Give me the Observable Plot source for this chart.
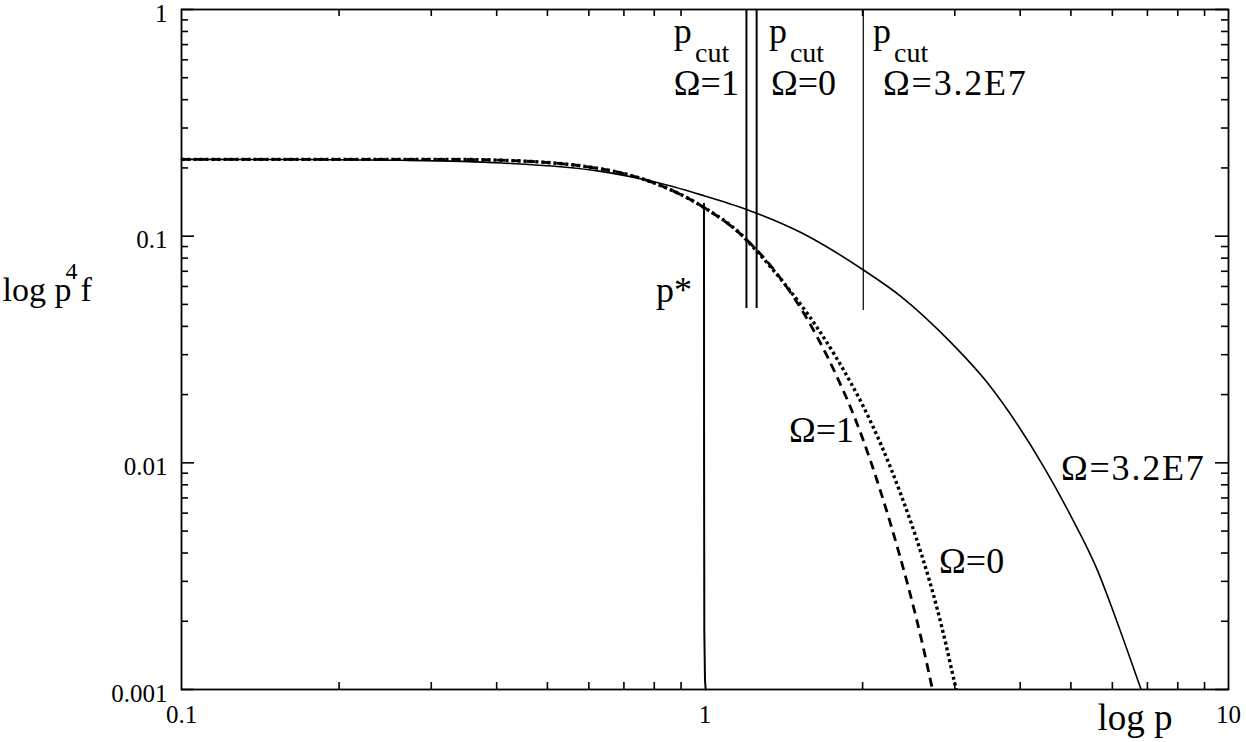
<!DOCTYPE html>
<html><head><meta charset="utf-8">
<script src="https://cdn.jsdelivr.net/npm/d3@7"></script>
<script src="https://cdn.jsdelivr.net/npm/@observablehq/plot@0.6"></script>
<style>
body{margin:0;background:#fff}
svg text, svg tspan { font-family: "Liberation Serif", "Times New Roman", serif !important; }
</style>
</head><body><div id="chart"></div>
<script>
// Omega = 3.2E7 (solid)
const pSolid = [0.1, 0.169, 0.263, 0.408, 0.632, 0.789, 0.983, 1.207, 1.525, 2.004, 2.366, 2.951, 3.472, 3.963, 4.443, 5.000, 5.633, 6.045, 6.808];
const vSolid = [0.2181, 0.2180, 0.2163, 0.2104, 0.1932, 0.1750, 0.1521, 0.1306, 0.1038, 0.0711, 0.0543, 0.0339, 0.02239, 0.01462, 0.00955, 0.00582, 0.00331, 0.00216, 0.001];
// Omega = 1 (dashed)
const pDash = [0.1, 0.2, 0.327, 0.408, 0.632, 0.789, 0.983, 1.187, 1.397, 1.594, 1.818, 1.926, 2.075, 2.265, 2.441, 2.531, 2.604, 2.719];
const vDash = [0.2181, 0.2181, 0.2181, 0.2163, 0.1982, 0.1736, 0.1362, 0.0989, 0.0647, 0.0403, 0.02198, 0.01611, 0.01007, 0.00532, 0.00288, 0.00208, 0.00158, 0.001];
// Omega = 0 (dotted)
const pDot = [0.1, 0.2, 0.327, 0.408, 0.632, 0.789, 0.983, 1.187, 1.240, 1.415, 1.644, 1.901, 2.013, 2.169, 2.368, 2.587, 2.781, 2.886, 2.991, 3.019];
const vDot = [0.2181, 0.2181, 0.2181, 0.2163, 0.1982, 0.1736, 0.1362, 0.0989, 0.0887, 0.0621, 0.0390, 0.02244, 0.01746, 0.01202, 0.00723, 0.00400, 0.00224, 0.00158, 0.001096, 0.001];
// p* line
const pStar = [0.9955, 0.996, 0.997, 1.0, 1.003];
const vStar = [0.139, 0.01, 0.0018, 0.0011, 0.001];
// p_cut lines (Omega=1, Omega=0, Omega=3.2E7)
const cutP = [1.2, 1.255, 2.006];
const cutLow = [0.048, 0.048, 0.047];

const xMajor = [0.1, 1, 10];
const xTickLabels = ["0.1", "1", "10"];
const xMinor = [0.2, 0.3, 0.4, 0.5, 0.6, 0.7, 0.8, 0.9, 2, 3, 4, 5, 6, 7, 8, 9];
const yMajor = [0.001, 0.01, 0.1, 1];
const yTickLabels = ["0.001", "0.01", "0.1", "1"];
const yMinor = [0.002, 0.003, 0.004, 0.005, 0.006, 0.007, 0.008, 0.009,
  0.02, 0.03, 0.04, 0.05, 0.06, 0.07, 0.08, 0.09,
  0.2, 0.3, 0.4, 0.5, 0.6, 0.7, 0.8, 0.9];

// annotations (data coordinates)
const annoText = ["p", "p", "p", "\u03A9=1", "\u03A9=0", "\u03A9=3.2E7", "p*", "\u03A9=1", "\u03A9=0", "\u03A9=3.2E7"];
const annoX = [0.872, 1.325, 2.094, 0.872, 1.337, 2.188, 0.806, 1.447, 2.80, 4.786];
const annoY = [0.715, 0.715, 0.715, 0.418, 0.418, 0.418, 0.051, 0.0123, 0.00325, 0.00836];
const subText = ["cut", "cut", "cut"];
const subX = [0.957, 1.453, 2.296];
const subY = [0.584, 0.584, 0.584];

const W = 1246, H = 742, ML = 181, MR = 18, MT = 9, MB = 53;
const IW = W - ML - MR, IH = H - MT - MB;
const FONT = "'Liberation Serif', 'Times New Roman', serif";

const toRows = (ps, vs) => ps.map((p, i) => ({p, v: vs[i]}));
const idx = a => a.map((_, i) => i);

const chart = Plot.plot({
  width: W, height: H,
  marginLeft: ML, marginRight: MR, marginTop: MT, marginBottom: MB,
  style: {fontFamily: FONT, background: "#fff", overflow: "visible"},
  x: {type: "log", domain: [0.1, 10], axis: null},
  y: {type: "log", domain: [0.001, 1], axis: null},
  marks: [
    // minor/major ticks (inward)
    Plot.ruleX(xMinor, {x: d => d, insetTop: IH - 7, stroke: "black", strokeWidth: 1.6}),
    Plot.ruleX(xMinor, {x: d => d, insetBottom: IH - 7, stroke: "black", strokeWidth: 1.6}),
    Plot.ruleY(yMinor, {y: d => d, insetRight: IW - 7, stroke: "black", strokeWidth: 1.6}),
    Plot.ruleY(yMinor, {y: d => d, insetLeft: IW - 7, stroke: "black", strokeWidth: 1.6}),
    Plot.ruleY(yMajor, {y: d => d, insetRight: IW - 13, stroke: "black", strokeWidth: 1.6}),
    Plot.ruleY(yMajor, {y: d => d, insetLeft: IW - 13, stroke: "black", strokeWidth: 1.6}),
    // cut lines
    Plot.ruleX([0, 1], {x: i => cutP[i], y1: i => cutLow[i], y2: 1, stroke: "black", strokeWidth: 2}),
    Plot.ruleX([2], {x: i => cutP[i], y1: i => cutLow[i], y2: 1, stroke: "black", strokeWidth: 1.2}),
    // curves
    Plot.line(toRows(pSolid, vSolid), {x: "p", y: "v", curve: "monotone-x", stroke: "black", strokeWidth: 1.6}),
    Plot.line(toRows(pDash, vDash), {x: "p", y: "v", curve: "monotone-x", stroke: "black", strokeWidth: 2.8, strokeDasharray: "9,6", strokeLinecap: "butt"}),
    Plot.line(toRows(pDot, vDot), {x: "p", y: "v", curve: "monotone-x", stroke: "black", strokeWidth: 3.4, strokeDasharray: "3,3", strokeLinecap: "butt"}),
    Plot.line(toRows(pStar, vStar), {x: "p", y: "v", curve: "linear", stroke: "black", strokeWidth: 2}),
    Plot.frame({stroke: "black", strokeWidth: 1.8}),
    // tick labels
    Plot.text(xMajor, {x: d => d, text: (d, i) => xTickLabels[i], frameAnchor: "bottom", lineAnchor: "bottom", dy: 33, fontSize: 25, fontFamily: FONT, fill: "black"}),
    Plot.text(yMajor, {y: d => d, text: (d, i) => yTickLabels[i], frameAnchor: "left", textAnchor: "end", lineAnchor: "bottom", dx: -14, dy: 12, fontSize: 25, fontFamily: FONT, fill: "black"}),
    // annotations
    Plot.text(idx(annoText), {x: i => annoX[i], y: i => annoY[i], text: i => annoText[i], textAnchor: "start", lineAnchor: "bottom", fontSize: 36, fontFamily: FONT, fill: "black"}),
    Plot.text(idx(subText), {x: i => subX[i], y: i => subY[i], text: i => subText[i], textAnchor: "start", lineAnchor: "bottom", fontSize: 28, fontFamily: FONT, fill: "black"}),
    // axis titles
    Plot.text(["log p"], {frameAnchor: "bottom-right", textAnchor: "start", lineAnchor: "bottom", dx: -131, dy: 40, fontSize: 37, fontFamily: FONT, fill: "black"}),
    Plot.text(["log p"], {frameAnchor: "top-left", textAnchor: "start", lineAnchor: "bottom", dx: -179, dy: 291, fontSize: 34, fontFamily: FONT, fill: "black"}),
    Plot.text(["4"], {frameAnchor: "top-left", textAnchor: "start", lineAnchor: "bottom", dx: -116, dy: 269, fontSize: 24, fontFamily: FONT, fill: "black"}),
    Plot.text(["f"], {frameAnchor: "top-left", textAnchor: "start", lineAnchor: "bottom", dx: -101, dy: 291, fontSize: 34, fontFamily: FONT, fill: "black"})
  ]
});
d3.select(chart).selectAll("text")
  .filter(function () { return this.textContent.includes("3.2E7"); })
  .style("letter-spacing", "1.8px");
document.getElementById("chart").appendChild(chart);
</script>
</body></html>
